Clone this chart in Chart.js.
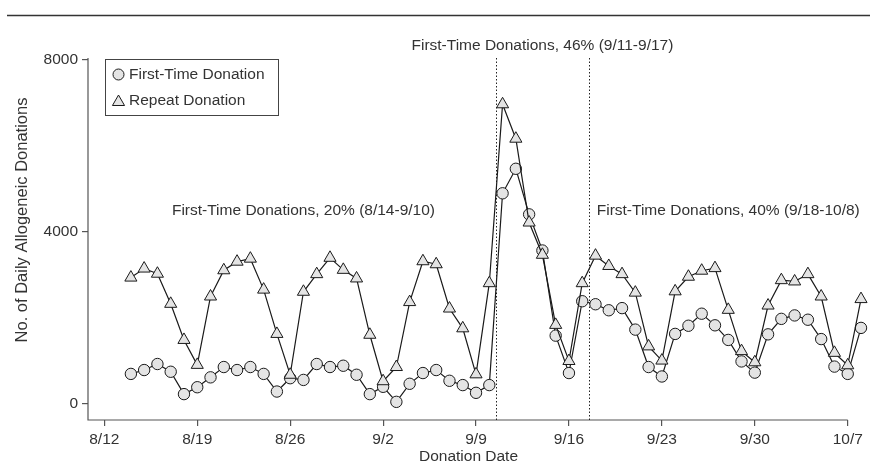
<!DOCTYPE html>
<html><head><meta charset="utf-8">
<script src="https://cdn.jsdelivr.net/npm/chart.js@4/dist/chart.umd.min.js"></script>
<style>html,body{margin:0;padding:0;background:#fff;}#wrap{width:870px;height:471px;position:relative;}</style>
</head><body><div id="wrap"><canvas id="c" width="870" height="471"></canvas></div>
<script>
const dates = ['8/14','8/15','8/16','8/17','8/18','8/19','8/20','8/21','8/22','8/23','8/24','8/25','8/26','8/27','8/28','8/29','8/30','8/31',
'9/1','9/2','9/3','9/4','9/5','9/6','9/7','9/8','9/9','9/10','9/11','9/12','9/13','9/14','9/15','9/16','9/17','9/18','9/19','9/20',
'9/21','9/22','9/23','9/24','9/25','9/26','9/27','9/28','9/29','9/30','10/1','10/2','10/3','10/4','10/5','10/6','10/7','10/8'];
const firstTime = [700,790,930,750,230,390,620,860,790,860,700,290,600,560,930,860,890,680,230,400,50,470,720,790,540,440,260,440,
4900,5470,4410,3570,1590,720,2390,2320,2180,2230,1730,860,640,1630,1820,2100,1830,1490,990,730,1620,1980,2060,1960,1510,870,700,1770];
const repeat = [2940,3150,3030,2330,1490,910,2500,3110,3310,3380,2660,1630,680,2610,3020,3400,3120,2920,1610,530,860,2370,3320,3250,2220,1760,690,2810,
6970,6170,4220,3470,1840,1000,2810,3450,3210,3020,2590,1340,1010,2620,2960,3100,3160,2190,1230,970,2290,2880,2850,3020,2500,1190,900,2440];
const tickLabels = ['8/12','8/19','8/26','9/2','9/9','9/16','9/23','9/30','10/7'];
const yTickValues = [0,4000,8000];
const periodEnds = ['9/10','9/17'];
const notes = [
  {text:'First-Time Donations, 20% (8/14-9/10)', date:'8/27', value:4500},
  {text:'First-Time Donations, 46% (9/11-9/17)', date:'9/14', value:8330},
  {text:'First-Time Donations, 40% (9/18-10/8)', date:'9/28', value:4500}
];
const seriesNames = ['First-Time Donation','Repeat Donation'];

function dayIndex(s){const [m,d]=s.split('/').map(Number);return (Date.UTC(2001,m-1,d)-Date.UTC(2001,7,12))/86400000;}
const FONT = "'Liberation Sans', Arial, sans-serif";
const TXT = '#333';
const FILL = '#e4e4e4';
const LINE = '#1a1a1a';

const ftData = dates.map((d,i)=>({x:dayIndex(d), y:firstTime[i]}));
const rpData = dates.map((d,i)=>({x:dayIndex(d), y:repeat[i]}));

function drawTri(ctx,x,y,r){
  ctx.beginPath();
  ctx.moveTo(x, y - r);
  ctx.lineTo(x + r*Math.sin(Math.PI*2/3), y - r*Math.cos(Math.PI*2/3));
  ctx.lineTo(x + r*Math.sin(Math.PI*4/3), y - r*Math.cos(Math.PI*4/3));
  ctx.closePath();
  ctx.fillStyle = FILL; ctx.fill();
  ctx.strokeStyle = LINE; ctx.lineWidth = 1; ctx.stroke();
}

const deco = {
  id:'deco',
  beforeDatasetsDraw(chart){
    const {ctx, chartArea:a, scales:{x,y}} = chart;
    ctx.save();
    ctx.strokeStyle = '#555'; ctx.lineWidth = 1.2;
    ctx.beginPath();
    ctx.moveTo(a.left, a.top - 2); ctx.lineTo(a.left, a.bottom);
    ctx.lineTo(x.getPixelForValue(dayIndex(tickLabels[tickLabels.length-1])), a.bottom);
    ctx.stroke();
    ctx.strokeStyle = '#222'; ctx.lineWidth = 1; ctx.setLineDash([1.5,2]);
    periodEnds.forEach(p=>{
      const px = Math.round(x.getPixelForValue(dayIndex(p)+0.5)) + 0.5;
      ctx.beginPath(); ctx.moveTo(px, a.top - 2); ctx.lineTo(px, a.bottom); ctx.stroke();
    });
    ctx.setLineDash([]);
    ctx.strokeStyle = '#333'; ctx.lineWidth = 1.5;
    ctx.beginPath(); ctx.moveTo(7, 15.5); ctx.lineTo(870, 15.5); ctx.stroke();
    ctx.fillStyle = TXT; ctx.font = '15.5px ' + FONT; ctx.textAlign = 'center'; ctx.textBaseline = 'middle';
    notes.forEach(n=>{ ctx.fillText(n.text, x.getPixelForValue(dayIndex(n.date)), y.getPixelForValue(n.value)); });
    ctx.save();
    ctx.font = '16.5px ' + FONT;
    ctx.translate(22, 220); ctx.rotate(-Math.PI/2);
    ctx.fillText('No. of Daily Allogeneic Donations', 0, 0);
    ctx.restore();
    ctx.fillText('Donation Date', (a.left + a.right)/2 - 6, 457);
    ctx.restore();
  },
  afterDraw(chart){
    const {ctx} = chart;
    ctx.save();
    ctx.strokeStyle = '#444'; ctx.lineWidth = 1;
    ctx.strokeRect(105.5, 59.5, 173, 56);
    ctx.beginPath(); ctx.arc(118.5, 74.5, 5.5, 0, Math.PI*2);
    ctx.fillStyle = FILL; ctx.fill(); ctx.strokeStyle = LINE; ctx.stroke();
    drawTri(ctx, 118.5, 102, 7);
    ctx.fillStyle = TXT; ctx.font = '15.5px ' + FONT; ctx.textAlign = 'left'; ctx.textBaseline = 'middle';
    ctx.fillText(seriesNames[0], 129, 75);
    ctx.fillText(seriesNames[1], 129, 101);
    ctx.restore();
  }
};

new Chart(document.getElementById('c'), {
  type:'line',
  data:{datasets:[
    {label:seriesNames[0], data:ftData, order:1, borderColor:LINE, borderWidth:1.2, pointStyle:'circle', pointRadius:5.7,
     pointBackgroundColor:FILL, pointBorderColor:LINE, pointBorderWidth:1, clip:false, tension:0},
    {label:seriesNames[1], data:rpData, order:0, borderColor:LINE, borderWidth:1.2, pointStyle:'triangle', pointRadius:7,
     pointBackgroundColor:FILL, pointBorderColor:LINE, pointBorderWidth:1, clip:false, tension:0}
  ]},
  options:{
    responsive:false, animation:false, devicePixelRatio:1,
    layout:{padding:{left:0,right:9,top:60,bottom:0}},
    plugins:{legend:{display:false}, tooltip:{enabled:false}},
    scales:{
      x:{type:'linear', min:-1.23, max:57,
        afterBuildTicks(s){ s.ticks = tickLabels.map(l=>({value:dayIndex(l)})); },
        afterFit(s){ s.height = 51; },
        ticks:{autoSkip:false, maxRotation:0, padding:4, color:TXT, font:{family:FONT,size:15.5},
          callback(v){ const i = tickLabels.findIndex(l=>dayIndex(l)===v); return i>=0?tickLabels[i]:''; }},
        grid:{display:true, drawOnChartArea:false, drawTicks:true, tickLength:6, color:'#555', lineWidth:1.2},
        border:{display:false}
      },
      y:{type:'linear', min:-372, max:8000,
        afterBuildTicks(s){ s.ticks = yTickValues.map(v=>({value:v})); },
        afterFit(s){ s.width = 88; },
        ticks:{padding:4, color:TXT, font:{family:FONT,size:15.5}, callback(v){ return String(v); }},
        grid:{display:true, drawOnChartArea:false, drawTicks:true, tickLength:6, color:'#555', lineWidth:1.2},
        border:{display:false}
      }
    }
  },
  plugins:[deco]
});
</script></body></html>
